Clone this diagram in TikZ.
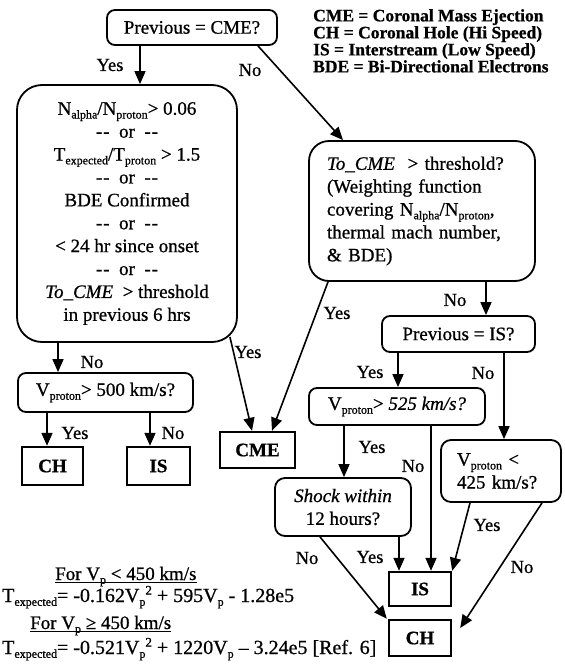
\documentclass[tikz,border=0pt]{standalone}
\usepackage{fontspec}
\setmainfont{Liberation Serif}[FakeBold=0.8]
\usetikzlibrary{arrows.meta}
\newcommand\sbs[1]{\raisebox{-3.8pt}{\fontsize{12}{12}\selectfont #1}}
\newcommand\sps[1]{\raisebox{7.5pt}{\fontsize{13}{13}\selectfont #1}}
\newcommand\dd{-\kern1pt-}
\begin{document}
\begin{tikzpicture}[x=1pt,y=-1pt,
  every node/.style={font=\fontsize{19}{22.9}\selectfont, inner sep=0pt},
  dec/.style={draw, line width=1.8pt, rounded corners=8pt},
  term/.style={draw, line width=2.4pt, font=\fontsize{19}{22}\selectfont\bfseries},
  arr/.style={line width=1.6pt, -{Triangle[length=13pt,width=11pt]}},
  lbl/.style={font=\fontsize{18.5}{20}\selectfont},
  frm/.style={anchor=base west, font=\fontsize{20}{22}\selectfont},
]
\useasboundingbox (0,0) rectangle (565,667);

% decision boxes
\node[dec, minimum width=170pt, minimum height=35pt] (prevcme) at (192,27.5) {Previous = CME?};
\node[dec, rounded corners=25pt, minimum width=220pt, minimum height=257pt, align=center] (big) at (127,213.5)
 {N\sbs{alpha}/N\sbs{proton}> 0.06\\ \dd\ \ or\ \ \dd\\ T\sbs{expected}/T\sbs{proton} > 1.5\\ \dd\ \ or\ \ \dd\\ BDE Confirmed\\ \dd\ \ or\ \ \dd\\ < 24 hr since onset\\ \dd\ \ or\ \ \dd\\ \textit{To\_CME} \ > threshold\\ in previous 6 hrs};
\node[dec, rounded corners=20pt, minimum width=226pt, minimum height=140pt, text width=190pt, align=left] (tocme) at (422,211)
 {\textit{To\_CME} \ > threshold?\\ (Weighting function\\ covering N\sbs{alpha}/N\sbs{proton},\\ thermal mach number,\\ \& BDE)};
\node[dec, minimum width=153pt, minimum height=36pt] (previs) at (458.5,334) {Previous = IS?};
\node[dec, minimum width=175pt, minimum height=39pt] (v500) at (105.5,392.5) {V\sbs{proton}> 500 km/s?};
\node[dec, minimum width=176pt, minimum height=37pt] (v525) at (397,406.5) {V\sbs{proton}> \textit{525 km/s?}};
\node[dec, rounded corners=10pt, minimum width=120pt, minimum height=62pt, text width=88pt, align=left] (v425) at (501,471) {V\sbs{proton} <\\425 km/s?};
\node[dec, rounded corners=10pt, minimum width=136pt, minimum height=58pt, align=center] (shock) at (343,507) {\textit{Shock within}\\12 hours?};

% terminal boxes
\node[term, minimum width=75pt, minimum height=36pt] (cme) at (257.5,450) {CME};
\node[term, minimum width=61pt, minimum height=38pt] (ch1) at (52.5,466) {CH};
\node[term, minimum width=63pt, minimum height=38pt] (is1) at (158.5,466) {IS};
\node[term, minimum width=62pt, minimum height=34pt] (is2) at (420,589) {IS};
\node[term, minimum width=62pt, minimum height=36pt] (ch2) at (420,638) {CH};

% legend
\node[anchor=north west, align=left, font=\fontsize{17.5}{17}\selectfont\bfseries] (legend) at (313,9)
 {CME = Coronal Mass Ejection\\CH = Coronal Hole (Hi Speed)\\IS = Interstream (Low Speed)\\BDE = Bi-Directional Electrons};

% formulas
\node[anchor=base west] (h1) at (55,580) {For V\sbs{p} < 450 km/s};
\node[frm] (f1) at (2,602) {T\sbs{expected}= -0.162V\sbs{p}\sps{2} + 595V\sbs{p} - 1.28e5};
\node[anchor=base west] (h2) at (30,629) {For V\sbs{p} ≥ 450 km/s};
\node[frm] (f2) at (2,654) {T\sbs{expected}= -0.521V\sbs{p}\sps{2} + 1220V\sbs{p} – 3.24e5 [Ref. 6]};
\draw[line width=1pt] ([yshift=-2.5pt]h1.base west) -- ([yshift=-2.5pt]h1.base east);
\draw[line width=1pt] ([yshift=-2.5pt]h2.base west) -- ([yshift=-2.5pt]h2.base east);

% connectors
\draw[arr] ([xshift=-52pt]prevcme.south) -- ([xshift=13pt]big.north);
\draw[arr] ([xshift=66pt]prevcme.south) -- ([xshift=-79pt]tocme.north);
\draw[arr] ([xshift=-69pt]big.south) -- ([xshift=-47.5pt]v500.north);
\draw[arr] ([xshift=-8pt,yshift=6pt]big.south east) -- ([xshift=-5.5pt]cme.north);
\draw[arr] ([xshift=-94pt]tocme.south) -- ([xshift=14.5pt]cme.north);
\draw[arr] ([xshift=64pt]tocme.south) -- ([xshift=27.5pt]previs.north);
\draw[arr] ([xshift=-60.5pt]previs.south) -- ([xshift=1pt]v525.north);
\draw[arr] ([xshift=45.5pt]previs.south) -- ([xshift=3pt]v425.north);
\draw[arr] ([xshift=-58.5pt]v500.south) -- ([xshift=-5.5pt]ch1.north);
\draw[arr] ([xshift=44.5pt]v500.south) -- ([xshift=-8.5pt]is1.north);
\draw[arr] ([xshift=-53pt]v525.south) -- ([xshift=1pt]shock.north);
\draw[arr] ([xshift=34pt]v525.south) -- ([xshift=11pt]is2.north);
\draw[arr] ([xshift=56pt]shock.south) -- ([xshift=-21pt]is2.north);
\draw[arr] ([xshift=-23pt]shock.south) -- ([xshift=-1pt]ch2.north west);
\draw[arr] ([xshift=-31pt]v425.south) -- (is2.north east);
\draw[arr] ([xshift=41pt]v425.south) -- ([xshift=8pt,yshift=10pt]ch2.east);

% labels
\node[lbl] (l1) at (110,65) {Yes};
\node[lbl] (l2) at (250,70) {No};
\node[lbl] (l3) at (92,362) {No};
\node[lbl] (l4) at (248,352) {Yes};
\node[lbl] (l5) at (337,313) {Yes};
\node[lbl] (l6) at (455,300) {No};
\node[lbl] (l7) at (370,372) {Yes};
\node[lbl] (l8) at (483,373) {No};
\node[lbl] (l9) at (75,433) {Yes};
\node[lbl] (l10) at (173,433) {No};
\node[lbl] (l11) at (372,447) {Yes};
\node[lbl] (l12) at (413,466) {No};
\node[lbl] (l13) at (370,557) {Yes};
\node[lbl] (l14) at (307,558) {No};
\node[lbl] (l15) at (487,525) {Yes};
\node[lbl] (l16) at (522,567) {No};
\end{tikzpicture}
\end{document}
